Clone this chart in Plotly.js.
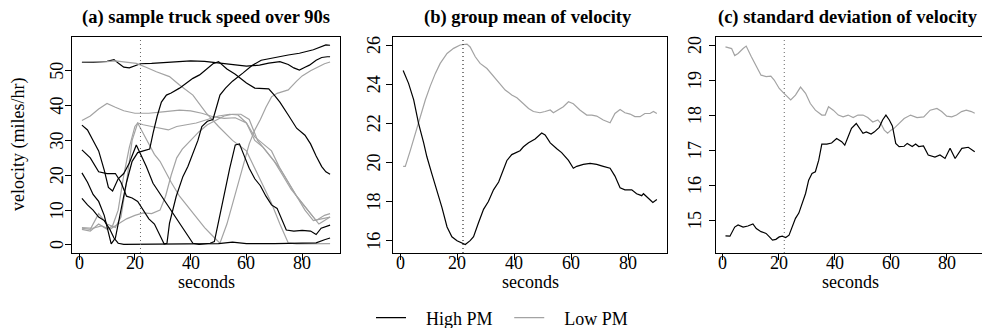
<!DOCTYPE html>
<html><head><meta charset="utf-8">
<script src="https://cdn.plot.ly/plotly-3.0.1.min.js"></script>
<style>html,body{margin:0;padding:0;background:#fff}#c{width:982px;height:328px}</style>
</head><body><div id="c"></div>
<script>
// ---- Panel (a): sample truck speeds (High PM = black, Low PM = gray)
const hi1_x = [1,5,10,12.5,14,16,18,20,22,26,30,35,40,45,50,55,60,64.7,68,72,75,77,79,81,82.6,85,87,89,90];
const hi1_y = [52.4,52.4,52.7,53.2,52.2,51,50.8,51.3,52,52.1,52.3,52.5,52.8,52.7,52.3,51.8,51.3,51.6,52.2,52.6,51.8,50.8,50.2,51,51.6,53,53.8,54,54];
const hi2_x = [1,3,5,7,9,10.5,11.5,13,15,17,19,21,23,25.3,26.5,28,29.5,31.3,33,36,38.4,40.8,43.2,45.6,48,50,53,56,60,63,66,68,70,72,75,78,81,83,85,87,88.5,90];
const hi2_y = [20.7,18,14.5,12.5,8.5,3.5,0.3,2,10,18,24,26.5,27,27.5,32,37,41,43,43.6,45,46.4,47.8,48.8,50.5,52,52.6,50.5,49,46.5,45,44.8,44.8,43,41,37.3,33.5,31.5,29,25.5,22.5,21,20.3];
const hi3_x = [1,4,7,10,13,15,17,19,21,23,25,27,29,30.5,31.5,32.4,34.8,37.2,39,40.8,42.6,44,46,48,50.5,52.5,55,58.7,62,65.3,70,75,79,84,88.5,90];
const hi3_y = [27.3,25,21,20.5,20.5,18,14,13.5,12.5,10,7.5,6,3,0.3,0.5,6.2,13.9,19.6,22.5,26.3,30,34,35.5,36,43,45,47,49.3,51.5,53,53.8,54.5,55,56,57.4,57.3];
const hi4_x = [1,3,5,7,9,10.5,12,14,16,18,20.5,24.1,26.5,28.9,31.3,33.6,36,38.4,40.8,43,45,47,48.5,50,52,54,56,57.5,59,61,63,65,67,69,71,72.5,74.3,77,80,83,85,86.8,88,90];
const hi4_y = [34.4,33,30,27,21.5,16.5,15.5,19,20.5,23.5,28.7,22.5,17.7,14.8,12,9.1,6.2,3.4,0.5,0.2,0.3,0.5,1,7,14,22,28.7,29,26,22,19,17,14,11.5,10.5,7.5,4.3,4,4.2,4,3,4.8,5.2,5.7];
const hi5_x = [1,3,5,7,9,11,12.5,14,16,20,30,40,50,55,60,70,80,85,88,90];
const hi5_y = [13.4,11.5,10,8,7,4.5,2,0.5,0.2,0.2,0.2,0.2,0.4,0.8,0.4,0.4,0.5,0.6,1.5,2];

const lo1_x = [1,5,10,13,16,20.5,24,27.7,32.4,36,40.8,45.6,50,55,60,63,66,69,72,75,78,82,86,90];
const lo1_y = [52.5,52.5,52.6,52.8,52.5,52.1,51,49.7,48.3,45.9,43,37.8,34,30,27,22,17,12,6,0.6,0.3,0.3,0.4,0.4];
const lo2_x = [1,4,7,10,13,16,20,25,30,36,40,44,48,52,56,60,63,66,69,72,75,78,81,84,87,90];
const lo2_y = [35.7,37,39,40.6,39.5,38.5,37.8,37.8,38.2,38.7,38.5,37.8,36.8,36.3,36.5,35,30,28,25,22,18,14,10,7,7.5,8];
const lo3_x = [1,4,7,10,13,15,17,19,21,23,26,29,32,35,38,42,46,50,54,57,60,63,66,69,72,75,78,81,84,86,88,90];
const lo3_y = [4.8,4.5,9,6,5,8,18,30,35,34.5,34,33.5,33,34,34.5,35,36,37,37.5,37.3,35,31,29,27,22,18,14,11,8,6,7,8];
const lo4_x = [1,4,7,10,12,14,16,18,20,21,23,25,27,29,31,33,36,39,42,45,48,50.5,53,55.5,58,61,63,65,67,69,71,75,78,80,83,86,88,90];
const lo4_y = [4.5,4,6,4.5,5.5,10,20,28,34,35,32,29,26,24,21,18,14,11,8,5,2.5,0.5,6,13,20,29,33,36,39.5,42.5,43.5,44.5,47,48.5,50,51.2,52,52.5];
const lo5_x = [1,5,8,11,14,17,20,23,26,29,31,33,35,37,40,43,46,49,52,55,58,61,64,67,70,73,76,79,82,85,88,90];
const lo5_y = [5,4.8,5.5,4.5,6,7.5,8.5,9.2,9,10,14,20,25,27.5,30,32.5,34.5,35.8,37,37.5,37.5,36,30,27,24,20,16,13,10,7,8.5,9];

// ---- Panel (b): group mean of velocity
const mean_x = [1,2.9,4.7,6.4,8.2,9.3,11.1,12.8,14.6,16.4,18.1,19.9,21.6,22.8,24.5,25.7,27.4,29.2,30.9,32.7,34.5,36.2,37.4,39.1,40.9,42,43.2,45,47.3,49.6,50.8,52.6,54.9,56.6,59,60.7,61.9,64.2,66.6,68.9,71.2,73.6,75.3,77.1,78.8,81.2,82.9,84.7,85.3,86.4,87.6,88.6,90];
const meanHi = [24.7,24.04,23.2,22,21,20.3,19.4,18.6,17.7,16.7,16.2,16.0,15.87,15.8,16.0,16.2,16.9,17.6,18.0,18.6,19.0,19.6,20.1,20.4,20.5,20.6,20.8,21.0,21.2,21.5,21.4,21.0,20.7,20.5,20.1,19.7,19.8,19.9,19.95,19.9,19.8,19.7,19.3,18.7,18.6,18.6,18.4,18.3,18.4,18.25,18.1,17.95,18.1];
const meanLo_x = [1,1.75,3.5,5.3,7,8.8,10.5,12.3,14,16.4,18.7,21,23.4,24.5,26.3,28,30.4,32.7,35,36.8,39.1,40.9,43.2,45,46.7,49,50.8,52.6,53.7,55.5,57.2,59,60.7,63,65.4,67.2,68.9,71.2,73.6,75.3,77.1,78.8,80.6,82.3,84.1,85.8,87.6,88.8,90];
const meanLo = [19.8,19.8,20.6,21.5,22.4,23.2,23.9,24.55,25.06,25.57,25.83,26.0,26.05,25.9,25.4,25.06,24.8,24.4,23.96,23.7,23.45,23.3,23.0,22.76,22.6,22.54,22.6,22.68,22.54,22.68,22.85,23.1,23.0,22.68,22.42,22.42,22.37,22.17,22.03,22.5,22.7,22.54,22.47,22.34,22.34,22.5,22.5,22.6,22.5];

// ---- Panel (c): standard deviation of velocity
const sdHi_x = [1,2.6,4.3,5.5,7.3,9,10.8,12,13.7,15.5,16.7,17.8,19,20.2,21.3,22.5,23.7,24.9,26,27.2,28.4,29.6,30.7,31.9,33.1,34.3,35.4,37.2,38.9,40.7,42.5,43.6,44.8,46,47.7,48.9,50.1,51.3,53,54.2,55.9,57.1,58.3,59.5,60.6,61.8,63,64.8,65.9,67.7,68.9,70,71.7,73.4,75.8,77.6,79.4,81.2,83,85.4,87.7,90];
const sdHi = [14.55,14.54,14.8,14.86,14.8,14.83,14.89,14.76,14.67,14.62,14.52,14.43,14.45,14.52,14.54,14.5,14.57,14.8,15.05,15.2,15.48,15.76,16.14,16.33,16.38,16.71,17.17,17.17,17.2,17.33,17.24,17.14,17.38,17.62,17.76,17.62,17.48,17.52,17.46,17.52,17.65,17.86,18.0,17.86,17.69,17.19,17.1,17.11,17.19,17.1,17.17,17.1,17.12,16.86,16.8,16.86,16.76,17.05,16.76,17.05,17.08,16.95];
const sdLo_x = [1,3.2,4.3,5.5,7.3,8.4,10.2,12,13.7,15.5,17.2,18.4,20.2,21.9,23.7,24.3,26,27.8,29.6,31.3,33.1,35.4,36.6,37.8,39.5,41.3,43,44.8,46.6,48.3,50.1,51.8,53.6,55.4,56.5,57.7,58.9,60.1,61.2,63,64.8,67.1,69.4,71.8,74.1,76.5,78.2,80,81.8,83.5,85.3,87,88.8,90];
const sdLo = [19.95,19.9,19.7,19.76,19.9,19.97,19.67,19.38,19.14,19.1,19.11,19.0,18.76,18.62,18.48,18.43,18.57,18.8,18.62,18.33,18.14,18.0,18.0,18.24,18.14,18.0,17.95,18.0,17.93,18.0,18.0,17.93,17.8,17.86,17.76,17.57,17.48,17.57,17.62,17.76,17.9,18.0,17.93,17.95,18.14,18.19,18.1,17.97,17.95,18.0,18.1,18.14,18.1,18.05];

const xTicks = [0,20,40,60,80];
const yTicksA = [0,10,20,30,40,50];
const yTicksB = [16,18,20,22,24,26];
const yTicksC = [15,16,17,18,19,20];
const titles = ['(a) sample truck speed over 90s','(b) group mean of velocity','(c) standard deviation of velocity'];
const xTitle = 'seconds', yTitle = 'velocity (miles/hr)';
const cutTime = 22;
const HI = '\u2002\u00A0\u200AHigh PM\u00A0\u2009\u2009', LO = '\u2002\u00A0\u200ALow PM';

const BLACK = '#000000', GRAY = '#a3a3a3';
const FONT = 'Liberation Serif, Times New Roman, serif';
const W = 982, H = 328;
const px = v => v / W, py = v => 1 - v / H;
const f = (s) => ({family: FONT, size: s, color: '#000'});

const traces = [];
function add(x, y, color, ax, name, show) {
  traces.push({x: x, y: y, type: 'scatter', mode: 'lines', xaxis: 'x' + ax, yaxis: 'y' + ax,
    line: {color: color, width: 1.2}, name: name, legendgroup: name, showlegend: !!show, hoverinfo: 'skip'});
}
add(hi1_x, hi1_y, BLACK, '', HI, true);
add(lo1_x, lo1_y, GRAY, '', LO, true);
[[lo2_x,lo2_y],[lo3_x,lo3_y],[lo4_x,lo4_y],[lo5_x,lo5_y]].forEach(s => add(s[0], s[1], GRAY, '', LO));
[[hi2_x,hi2_y],[hi3_x,hi3_y],[hi4_x,hi4_y],[hi5_x,hi5_y]].forEach(s => add(s[0], s[1], BLACK, '', HI));
add(meanLo_x, meanLo, GRAY, '2', LO);
add(mean_x, meanHi, BLACK, '2', HI);
add(sdLo_x, sdLo, GRAY, '3', LO);
add(sdHi_x, sdHi, BLACK, '3', HI);

const yTop = 37, yBot = 253;
function xa(l, r, range, anchor) {
  return {domain: [px(l), px(r)], range: range, tickvals: xTicks, ticks: 'outside', ticklen: 6, tickwidth: 1,
    tickcolor: '#000', showline: true, linecolor: '#000', linewidth: 1, mirror: true, showgrid: false, zeroline: false,
    showticklabels: false, anchor: anchor, automargin: false};
}
function ya(range, ticks, mirror, anchor) {
  return {domain: [py(yBot), py(yTop)], range: range, tickvals: ticks, ticks: 'outside', ticklen: 6, tickwidth: 1,
    tickcolor: '#000', showline: true, linecolor: '#000', linewidth: 1, mirror: mirror, showgrid: false, zeroline: false,
    showticklabels: false, anchor: anchor, automargin: false};
}
const panels = [
  {ax: '', l: 72, r: 340, labX: 57, titleX: 81, titleAnchor: 'left'},
  {ax: '2', l: 393, r: 667, labX: 374, titleX: 423, titleAnchor: 'left'},
  {ax: '3', l: 715.5, r: 985, labX: 695, titleX: 979, titleAnchor: 'right'}
];
const yTickSets = [yTicksA, yTicksB, yTicksC];

const annotations = [];
panels.forEach((p, i) => {
  const cx = (p.l + p.r) / 2;
  annotations.push({text: '<b>' + titles[i] + '</b>', xref: 'paper', yref: 'paper', x: px(p.titleX), y: py(17),
    xanchor: p.titleAnchor, yanchor: 'middle', showarrow: false, font: f(18.5), borderpad: 0});
  annotations.push({text: xTitle, xref: 'paper', yref: 'paper', x: px(cx), y: py(282),
    xanchor: 'center', yanchor: 'middle', showarrow: false, font: f(18)});
  xTicks.forEach(v => annotations.push({text: String(v), xref: 'x' + p.ax, yref: 'paper', x: v, y: py(263),
    xanchor: 'center', yanchor: 'middle', showarrow: false, font: f(18)}));
  yTickSets[i].forEach(v => annotations.push({text: String(v), xref: 'paper', yref: 'y' + p.ax, x: px(p.labX), y: v,
    xanchor: 'center', yanchor: 'middle', textangle: -90, showarrow: false, font: f(18)}));
});
annotations.push({text: yTitle, xref: 'paper', yref: 'paper', x: px(18), y: py((yTop + yBot) / 2),
  xanchor: 'center', yanchor: 'middle', textangle: -90, showarrow: false, font: f(18)});

const layout = {
  width: W, height: H, margin: {l: 0, r: 0, t: 0, b: 0, autoexpand: false}, paper_bgcolor: '#fff', plot_bgcolor: '#fff',
  showlegend: true,
  legend: {orientation: 'h', x: px(502), xanchor: 'center', y: py(318), yanchor: 'middle',
    font: f(18), bgcolor: 'rgba(0,0,0,0)'},
  xaxis: xa(72, 340, [-2.56, 93.56], 'y'),
  yaxis: ya([-2.3, 59.67], yTicksA, true, 'x'),
  xaxis2: xa(393, 667, [-2.56, 93.56], 'y2'),
  yaxis2: ya([15.37, 26.41], yTicksB, true, 'x2'),
  xaxis3: xa(715.5, 982, [-2.56, 92.6], 'y3'),
  yaxis3: ya([14.06, 20.23], yTicksC, false, 'x3'),
  shapes: ['', '2', '3'].map((a, i) => ({type: 'line', xref: 'x' + a, yref: 'y' + a + ' domain', x0: cutTime, x1: cutTime, y0: 0, y1: 1,
    line: {color: i === 1 ? '#000' : '#666', width: 1, dash: '1px,3px'}})),
  annotations: annotations
};
Plotly.newPlot('c', traces, layout, {staticPlot: true});
</script></body></html>
